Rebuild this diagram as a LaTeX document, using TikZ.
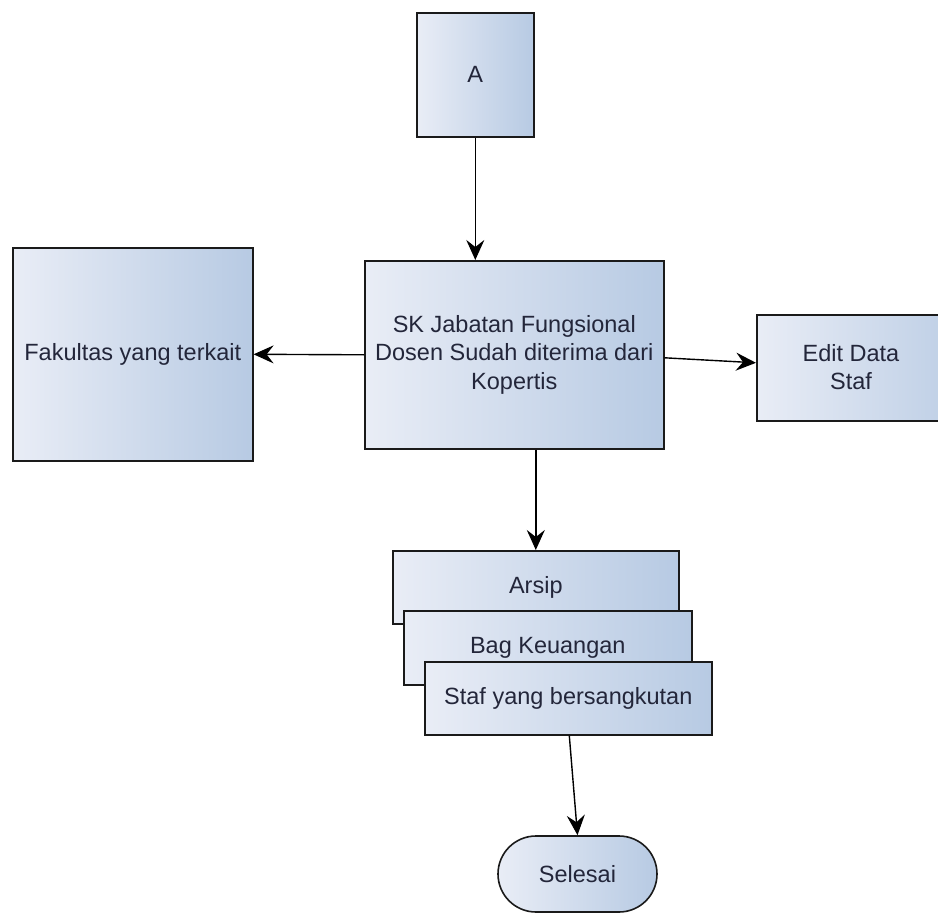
\documentclass[tikz,border=0pt]{standalone}
\usepackage{fontspec}
\setmainfont{Liberation Sans}
\usetikzlibrary{arrows.meta}
\definecolor{boxlight}{HTML}{E9EDF6}
\definecolor{boxdark}{HTML}{B7CAE3}
\definecolor{txt}{HTML}{23263A}
\definecolor{edge}{HTML}{1A1A1A}
\tikzset{
  flowbox/.style={draw=edge, line width=1.6pt, left color=boxlight, right color=boxdark,
    anchor=north west, inner sep=0pt, align=center, text=txt,
    font=\fontsize{23.5}{28.5}\selectfont},
  label text/.style={text=txt, align=center, font=\fontsize{23.5}{28.5}\selectfont},
  conn/.style={draw=black, line width=1.4pt, -{Stealth[length=20pt,width=18pt,inset=7pt]}}
}
\begin{document}
\begin{tikzpicture}[x=1pt,y=-1pt]
\useasboundingbox[fill=white] (0,0) rectangle (938,915);
\node[flowbox, minimum width=117pt, minimum height=124pt] (A) at (416,12) {A};
\node[flowbox, minimum width=299pt, minimum height=188pt] (C) at (364,260)
  {SK Jabatan Fungsional\\Dosen Sudah diterima dari\\Kopertis};
\node[flowbox, minimum width=240pt, minimum height=213pt] (F) at (12,247) {Fakultas yang terkait};
\node[flowbox, minimum width=230pt, minimum height=106pt] (E) at (756,314) {};
\node[label text] (ET) at (851,367) {Edit Data\\Staf};
\node[flowbox, minimum width=286pt, minimum height=73pt] (Ar) at (392,550) {Arsip};
\node[flowbox, minimum width=288pt, minimum height=74pt] (Bg) at (403,610) {Bag Keuangan};
\node[flowbox, minimum width=287pt, minimum height=73pt] (St) at (424,661) {Staf yang bersangkutan};
\node[flowbox, anchor=center, minimum width=159pt, minimum height=76pt, rounded corners=38pt] (Se) at (577.5,874) {Selesai};
\draw[conn] (A.south) -- (A.south |- C.north);
\draw[conn] (C.west) -- (F.east);
\draw[conn] ([yshift=-3pt]C.east) -- ([yshift=5pt]E.west);
\draw[conn] (Ar.north |- C.south) -- (Ar.north);
\draw[conn] ([xshift=1pt]St.south) -- (Se.north);
\end{tikzpicture}
\end{document}
